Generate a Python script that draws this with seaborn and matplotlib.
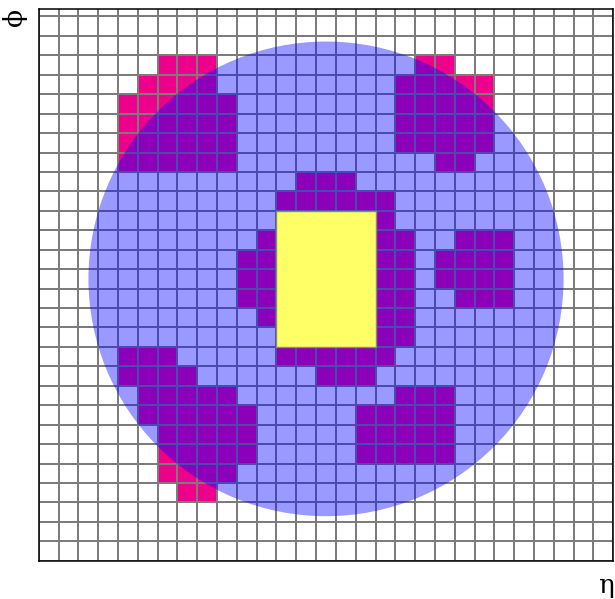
import numpy as np
import matplotlib
matplotlib.use("Agg")
import matplotlib.pyplot as plt
from matplotlib.colors import ListedColormap
from matplotlib.patches import Ellipse, Rectangle
import seaborn as sns

# ---- data ----
n_cols = 29
n_rows = 29                       # row 0 is the partly visible top row
# active (magenta) towers: (row, first column, last column), rows counted from the top
runs_top_left = [(3, 6, 8), (4, 5, 8), (5, 4, 9), (6, 4, 9), (7, 4, 9), (8, 4, 9)]
runs_top_right = [(3, 19, 20), (4, 18, 22), (5, 18, 22), (6, 18, 22), (7, 18, 22), (8, 20, 21)]
runs_center = [(9, 13, 15), (10, 12, 17), (11, 17, 17), (12, 11, 11), (12, 17, 18),
               (13, 10, 11), (13, 17, 18), (14, 10, 11), (14, 17, 18), (15, 10, 11),
               (15, 17, 18), (16, 11, 11), (16, 17, 18), (17, 17, 18), (18, 12, 17),
               (19, 14, 16)]
runs_right = [(12, 21, 23), (13, 20, 23), (14, 20, 23), (15, 21, 23)]
runs_bottom_left = [(18, 4, 6), (19, 4, 7), (20, 5, 9), (21, 5, 10), (22, 6, 10),
                    (23, 6, 10), (24, 6, 9), (25, 7, 8)]
runs_bottom_right = [(20, 18, 20), (21, 16, 20), (22, 16, 20), (23, 16, 20)]

cone_center = (14.5, 14.5)        # (eta, phi) in cell units
cone_radius_eta = 11.99
cone_radius_phi = 12.21
core_eta = (12, 17)               # hard core rectangle (columns)
core_phi = (11, 18)               # (rows)

x_label = "η"
y_label = "ϕ"

# ---- build matrix ----
grid = np.zeros((n_rows, n_cols))
for runs in (runs_top_left, runs_top_right, runs_center, runs_right,
             runs_bottom_left, runs_bottom_right):
    for r, c0, c1 in runs:
        grid[r, c0:c1 + 1] = 1

W, H = 615, 599
fig = plt.figure(figsize=(W / 100, H / 100), dpi=100)
ax = fig.add_axes([38.7 / W, 1 - 560.7 / H, (613.3 - 38.7) / W, (560.7 - 8.7) / H])

sns.heatmap(grid, ax=ax, cmap=ListedColormap(["white", "#EC008C"]), vmin=0, vmax=1,
            cbar=False, linewidths=1.4, linecolor="#7c7c7c",
            xticklabels=False, yticklabels=False)

ax.add_patch(Ellipse(cone_center, 2 * cone_radius_eta, 2 * cone_radius_phi,
                     facecolor="#0000FF", alpha=0.4, edgecolor="none", zorder=3))
ax.add_patch(Rectangle((core_eta[0], core_phi[0]), core_eta[1] - core_eta[0],
                       core_phi[1] - core_phi[0], facecolor="#FFFF66",
                       edgecolor="#8a8a7a", linewidth=1.0, zorder=4))

ax.set_xlim(0, n_cols)
ax.set_ylim(n_rows, 0.6)
ax.tick_params(left=False, bottom=False)
ax.set_xlabel("")
ax.set_ylabel("")
for s in ax.spines.values():
    s.set_visible(True)
    s.set_color("black")
    s.set_linewidth(1.1)
    s.set_zorder(5)

fig.text(606 / W, 1 - 585 / H, x_label, fontsize=19, family="DejaVu Serif",
         ha="center", va="center")
fig.text(15 / W, 1 - 17 / H, y_label, fontsize=19, family="DejaVu Serif",
         rotation=90, ha="center", va="center")

fig.savefig("out.png", dpi=100)
